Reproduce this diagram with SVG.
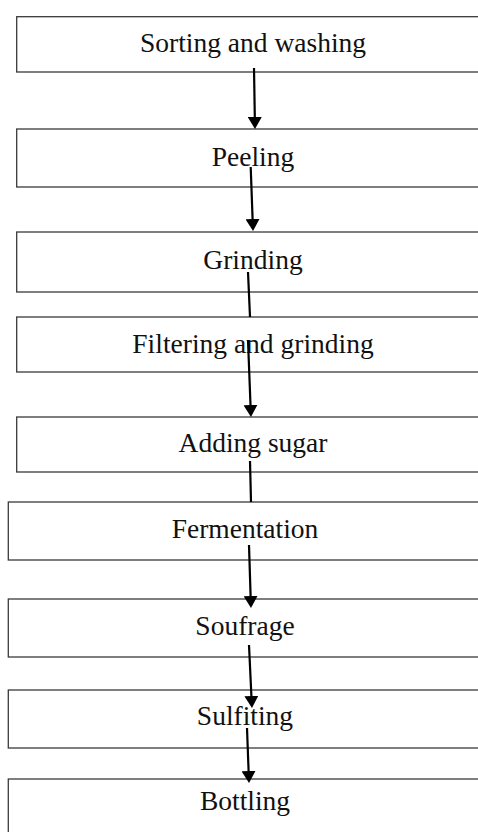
<svg xmlns="http://www.w3.org/2000/svg" width="478" height="832" viewBox="0 0 478 832">
<style>
.box{fill:#fff;stroke:#3a3a3a;stroke-width:1.3}
.lbl{font-family:"Liberation Serif","Times New Roman",serif;font-size:27.5px;fill:#111;text-anchor:middle}
.con{stroke:#000;stroke-width:2.2;fill:none}
</style>
<defs>
<marker id="ah" viewBox="0 0 12 14" refX="0" refY="7" markerWidth="12" markerHeight="14" markerUnits="userSpaceOnUse" orient="auto">
<path d="M0,0 L12,7 L0,14 z" fill="#000"/>
</marker>
</defs>
<g id="n1"><rect class="box" x="16.7" y="16.7" width="473" height="55.3"/><text class="lbl" x="253" y="52">Sorting and washing</text></g>
<g id="n2"><rect class="box" x="16.7" y="129" width="473" height="58"/><text class="lbl" x="253" y="166">Peeling</text></g>
<g id="n3"><rect class="box" x="16.7" y="232" width="473" height="60"/><text class="lbl" x="253" y="269">Grinding</text></g>
<g id="n4"><rect class="box" x="16.7" y="317" width="473" height="55"/><text class="lbl" x="253" y="353">Filtering and grinding</text></g>
<g id="n5"><rect class="box" x="16.7" y="417" width="473" height="55"/><text class="lbl" x="253" y="452">Adding sugar</text></g>
<g id="n6"><rect class="box" x="8.3" y="502" width="474" height="58"/><text class="lbl" x="245" y="538">Fermentation</text></g>
<g id="n7"><rect class="box" x="8.3" y="599" width="474" height="58"/><text class="lbl" x="245" y="635">Soufrage</text></g>
<g id="n8"><rect class="box" x="8.3" y="690" width="474" height="58"/><text class="lbl" x="245" y="725">Sulfiting</text></g>
<g id="n9"><rect class="box" x="8.3" y="779" width="474" height="70"/><text class="lbl" x="245" y="810">Bottling</text></g>
<g id="connectors">
<line class="con" x1="254" y1="68" x2="254.8" y2="117" marker-end="url(#ah)"/>
<line class="con" x1="250.7" y1="167" x2="252.6" y2="219" marker-end="url(#ah)"/>
<line class="con" x1="248" y1="272" x2="250" y2="317"/>
<line class="con" x1="248" y1="340" x2="250.5" y2="405" marker-end="url(#ah)"/>
<line class="con" x1="250" y1="461" x2="251" y2="502"/>
<line class="con" x1="249" y1="545" x2="250.6" y2="596" marker-end="url(#ah)"/>
<line class="con" x1="249" y1="645" x2="251.4" y2="696" marker-end="url(#ah)"/>
<line class="con" x1="247" y1="728" x2="248.6" y2="771" marker-end="url(#ah)"/>
</g>
</svg>
